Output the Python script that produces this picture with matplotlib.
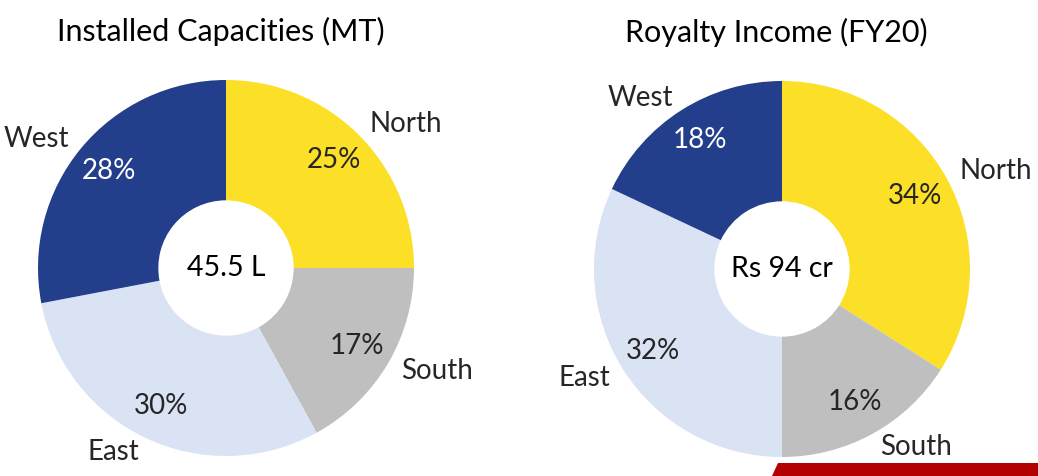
import matplotlib
matplotlib.use('Agg')
import matplotlib.pyplot as plt
from matplotlib.patches import Polygon

plt.rcParams['font.family'] = ['Lato', 'DejaVu Sans']

regions = ['North', 'South', 'East', 'West']
capacity_pct = [25, 17, 30, 28]
royalty_pct = [34, 16, 32, 18]
colors = ['#FCDF27', '#BFBFBF', '#DAE3F3', '#233E8B']
pct_colors = ['#262626', '#262626', '#262626', 'white']

W, H = 1038, 476
fig = plt.figure(figsize=(W / 100, H / 100), dpi=100)

def donut(rect, values, title, center_text):
    ax = fig.add_axes(rect)
    wedges, texts, autotexts = ax.pie(
        values, labels=regions, colors=colors, startangle=90, counterclock=False,
        radius=1.0, wedgeprops=dict(width=0.64, linewidth=0),
        autopct='%d%%', pctdistance=0.81, labeldistance=1.08,
        textprops=dict(fontsize=20, color='#262626'))
    for t, c in zip(autotexts, pct_colors):
        t.set_color(c)
    ax.text(0, 0, center_text, ha='center', va='center', fontsize=20.5, color='black')
    ax.set_xlim(-1, 1)
    ax.set_ylim(-1, 1)
    ax.set_aspect('equal')
    ax.text(0.485, 1.13, title, transform=ax.transAxes, fontsize=22, color='black',
            ha='center', va='center')
    return ax

donut([38 / W, 20 / H, 376 / W, 376 / H], capacity_pct,
      'Installed Capacities (MT)', '45.5 L')
donut([594 / W, 19 / H, 376 / W, 376 / H], royalty_pct,
      'Royalty Income (FY20)', 'Rs 94 cr')

# red slide footer strip
fig.patches.append(Polygon([(772 / W, 0), (778 / W, 13 / H), (1, 13 / H), (1, 0)],
                           closed=True, transform=fig.transFigure,
                           facecolor='#B30000', edgecolor='none'))

fig.savefig('out.png', dpi=100)
